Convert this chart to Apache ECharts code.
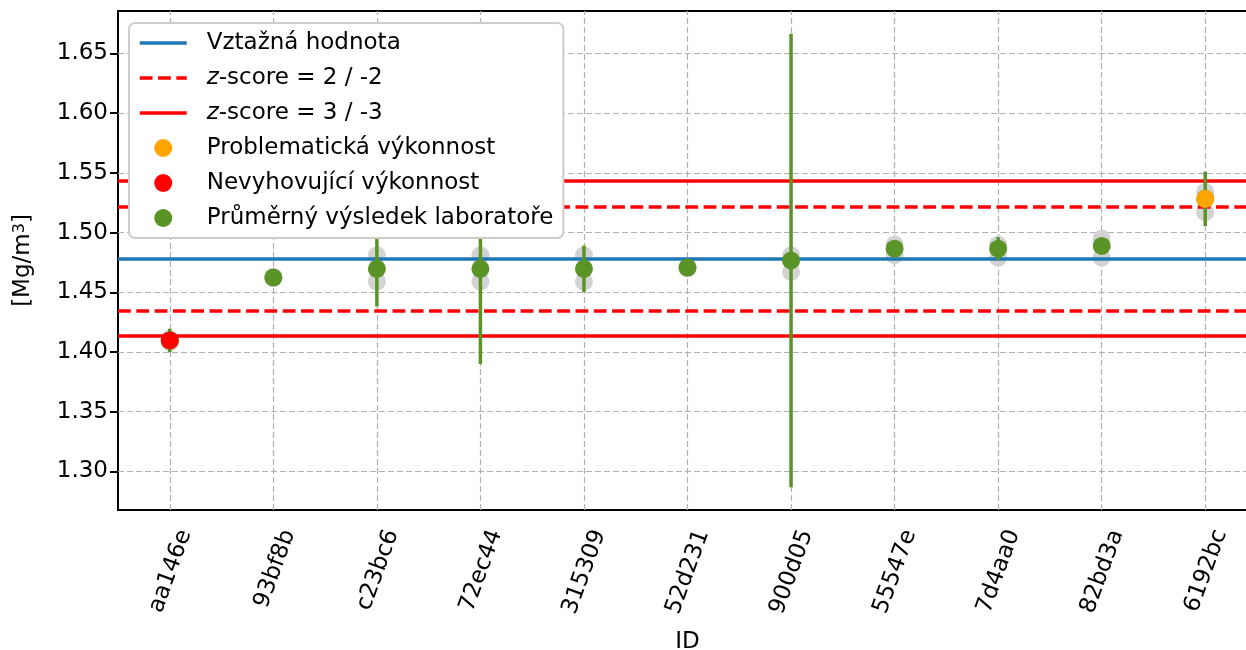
<!DOCTYPE html>
<html>
<head>
<meta charset="utf-8">
<script src="https://cdn.jsdelivr.net/npm/echarts@6/dist/echarts.min.js"></script>
<style>html,body{margin:0;padding:0;background:#fff}#c{width:1246px;height:650px}</style>
</head>
<body>
<div id="c"></div>
<script>
const labIds = ['aa146e','93bf8b','c23bc6','72ec44','315309','52d231','900d05','55547e','7d4aa0','82bd3a','6192bc'];
const labMeans = [1.4097, 1.4623, 1.4696, 1.4696, 1.4696, 1.4707, 1.4766, 1.4865, 1.4865, 1.4888, 1.5282];
const labErrors = [0.0098, 0, 0.0315, 0.0796, 0.0195, 0, 0.1899, 0, 0.0097, 0, 0.0227];
const replicate1 = [1.408, 1.462, 1.481, 1.481, 1.481, 1.470, 1.481, 1.490, 1.490, 1.495, 1.534];
const replicate2 = [1.411, 1.463, 1.459, 1.459, 1.459, 1.471, 1.467, 1.481, 1.479, 1.479, 1.517];
const labStatus = ['fail','ok','ok','ok','ok','ok','ok','ok','ok','ok','warn'];
const refValue = 1.4779;
const z2Values = [1.5213, 1.4347];
const z3Values = [1.5431, 1.4136];
const yTicks = [1.30, 1.35, 1.40, 1.45, 1.50, 1.55, 1.60, 1.65];
const yMin = 1.2677, yMax = 1.6855;

const FONT = 'DejaVu Sans';
const GREEN = '#5a9427';
const GRID_STYLE = { color: '#b0b0b0', width: 1.2, type: [6, 3] };
const chart = echarts.init(document.getElementById('c'));

const greyData = [];
labIds.forEach((id, i) => { greyData.push([i, replicate1[i]]); greyData.push([i, replicate2[i]]); });

const hiddenSym = { opacity: 0 };
const mk = (z, style, data) => ({ silent: true, z: z, precision: 6, symbol: 'none', label: { show: false }, animation: false, lineStyle: style, data: data });

chart.setOption({
  animation: false,
  backgroundColor: '#fff',
  textStyle: { fontFamily: FONT },
  grid: { left: 118, top: 11, height: 499, width: 1139, outerBoundsMode: 'none', show: true, borderColor: '#000', borderWidth: 2, backgroundColor: 'transparent', containLabel: false },
  legend: {
    orient: 'vertical', left: 129, top: 23,
    padding: [7, 10, 7, 9],
    itemGap: 9, itemWidth: 47, itemHeight: 18,
    backgroundColor: '#ffffff', borderColor: '#cccccc', borderWidth: 2, borderRadius: 6,
    data: [
      { name: 'Vztažná hodnota', itemStyle: hiddenSym, lineStyle: { color: '#1f77b4', width: 3.5 } },
      { name: 'z-score = 2 / -2', itemStyle: hiddenSym, lineStyle: { color: '#ff0000', width: 3.5, type: [12.8, 5.5] } },
      { name: 'z-score = 3 / -3', itemStyle: hiddenSym, lineStyle: { color: '#ff0000', width: 3.5 } },
      { name: 'Problematická výkonnost' },
      { name: 'Nevyhovující výkonnost' },
      { name: 'Průměrný výsledek laboratoře' }
    ],
    formatter: n => n.startsWith('z-score') ? '{i|z}{n|' + n.slice(1) + '}' : '{n|' + n + '}',
    textStyle: {
      fontFamily: FONT, fontSize: 23, color: '#000', lineHeight: 26, padding: [0, 0, 0, 15],
      rich: { i: { fontFamily: FONT, fontSize: 23, fontStyle: 'italic', color: '#000' }, n: { fontFamily: FONT, fontSize: 23, color: '#000' } }
    },
    z: 20
  },
  xAxis: {
    type: 'category', data: labIds, boundaryGap: true,
    name: 'ID', nameLocation: 'middle', nameGap: 121,
    nameTextStyle: { fontFamily: FONT, fontSize: 23, color: '#000' },
    axisLine: { lineStyle: { color: '#000', width: 2 } },
    axisTick: { alignWithLabel: true, length: 8, lineStyle: { color: '#000', width: 2 } },
    axisLabel: { rotate: 70, fontFamily: FONT, fontSize: 23, color: '#000', margin: 15, verticalAlign: 'top', padding: [5, 0, 0, 0], interval: 0 },
    splitLine: { show: false }
  },
  yAxis: {
    type: 'value', min: yMin, max: yMax,
    name: '[Mg/m{sup|3}]', nameLocation: 'middle', nameGap: 83, nameRotate: 90,
    nameTextStyle: { fontFamily: FONT, fontSize: 23, color: '#000', rich: { sup: { fontFamily: FONT, fontSize: 16, verticalAlign: 'top', color: '#000' } } },
    axisLine: { show: true, lineStyle: { color: '#000', width: 2 } },
    axisTick: { show: true, length: 8, customValues: yTicks, lineStyle: { color: '#000', width: 2 } },
    axisLabel: { fontFamily: FONT, fontSize: 23, color: '#000', margin: 10, customValues: yTicks, formatter: v => v.toFixed(2) },
    splitLine: { show: false }
  },
  series: [
    { name: 'grid', type: 'line', data: [], silent: true, z: 1,
      markLine: mk(1, GRID_STYLE, labIds.map(id => ({ xAxis: id })).concat(yTicks.map(v => ({ yAxis: v })))) },
    { name: 'replicates', type: 'scatter', data: greyData, symbolSize: 18, itemStyle: { color: '#d3d3d3', opacity: 1 }, z: 2, silent: true },
    { name: 'Vztažná hodnota', type: 'line', data: [], symbol: 'none', lineStyle: { color: '#1f77b4', width: 3.5 }, itemStyle: { color: '#1f77b4' }, z: 3,
      markLine: mk(3, { color: '#1f77b4', width: 3.5, type: 'solid' }, [{ yAxis: refValue }]) },
    { name: 'z-score = 2 / -2', type: 'line', data: [], symbol: 'none', lineStyle: { color: '#ff0000', width: 3.5, type: [12.8, 5.5] }, itemStyle: { color: '#ff0000' }, z: 3,
      markLine: mk(3, { color: '#ff0000', width: 3.5, type: [12.8, 5.5] }, z2Values.map(v => ({ yAxis: v }))) },
    { name: 'z-score = 3 / -3', type: 'line', data: [], symbol: 'none', lineStyle: { color: '#ff0000', width: 3.5, type: 'solid' }, itemStyle: { color: '#ff0000' }, z: 3,
      markLine: mk(3, { color: '#ff0000', width: 3.5, type: 'solid' }, z3Values.map(v => ({ yAxis: v }))) },
    { name: 'errbars', type: 'custom', z: 4, silent: true,
      data: labIds.map((id, i) => [i, labMeans[i] - labErrors[i], labMeans[i] + labErrors[i]]).filter((d, i) => labErrors[i] > 0),
      renderItem: (params, api) => {
        const lo = api.coord([api.value(0), api.value(1)]);
        const hi = api.coord([api.value(0), api.value(2)]);
        return { type: 'line', shape: { x1: lo[0], y1: lo[1], x2: hi[0], y2: hi[1] }, style: { stroke: GREEN, lineWidth: 3.5 } };
      } },
    { name: 'Průměrný výsledek laboratoře', type: 'scatter', symbolSize: 18, itemStyle: { color: GREEN, opacity: 1 }, z: 5,
      data: labIds.map((id, i) => [i, labMeans[i]]) },
    { name: 'Problematická výkonnost', type: 'scatter', symbolSize: 18, itemStyle: { color: '#ffa500', opacity: 1 }, z: 6,
      data: labIds.map((id, i) => [i, labMeans[i]]).filter((d, i) => labStatus[i] === 'warn') },
    { name: 'Nevyhovující výkonnost', type: 'scatter', symbolSize: 18, itemStyle: { color: '#ff0000', opacity: 1 }, z: 6,
      data: labIds.map((id, i) => [i, labMeans[i]]).filter((d, i) => labStatus[i] === 'fail') }
  ]
});
</script>
</body>
</html>
